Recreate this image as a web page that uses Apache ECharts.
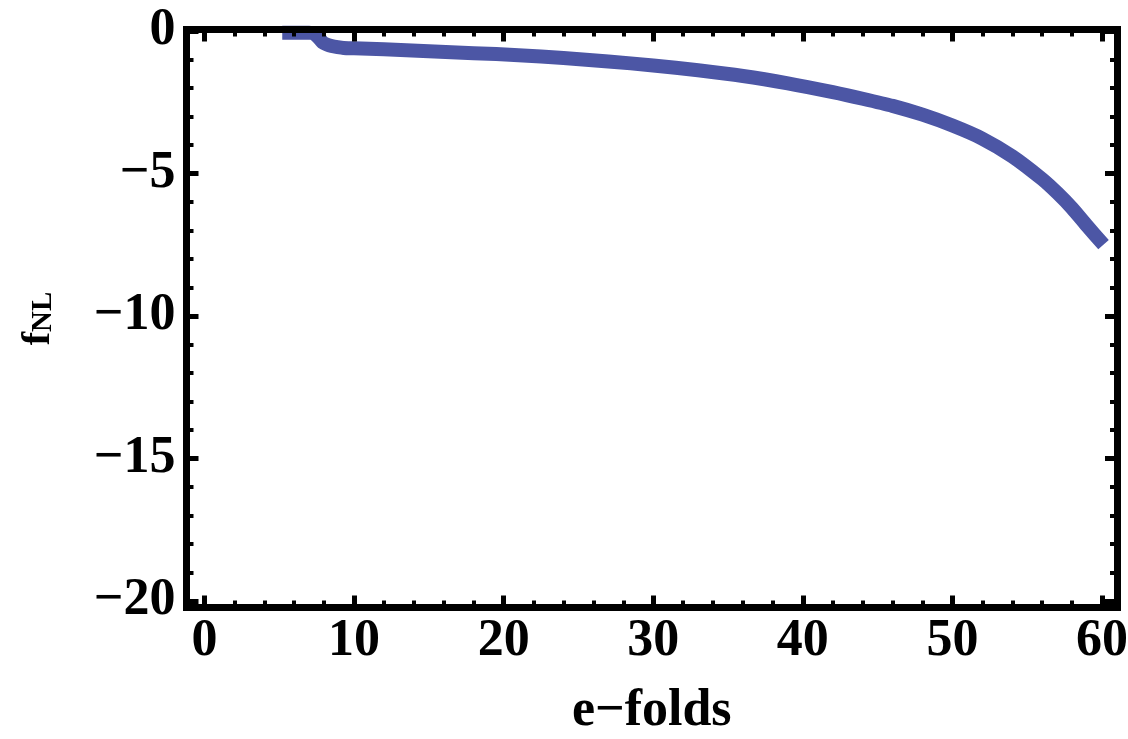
<!DOCTYPE html>
<html>
<head>
<meta charset="utf-8">
<script src="https://cdn.jsdelivr.net/npm/echarts@6/dist/echarts.min.js"></script>
<style>
html,body{margin:0;padding:0;background:#fff;}
#c{width:1128px;height:739px;}
</style>
</head>
<body>
<div id="c"></div>
<script>
// ---- data ----
const efolds = [5.2, 6, 7, 7.3, 7.6, 7.9, 8.2, 8.5, 8.9, 9.3, 10, 12, 15, 18, 21, 24, 27, 30, 33, 36, 39, 42, 44, 46, 48, 50, 52, 54, 56, 57, 58, 59, 60.1];
const fnl    = [-0.06, -0.06, -0.06, -0.09, -0.22, -0.4, -0.48, -0.53, -0.57, -0.6, -0.61, -0.64, -0.71, -0.78, -0.85, -0.95, -1.07, -1.21, -1.38, -1.58, -1.84, -2.15, -2.38, -2.63, -2.94, -3.32, -3.78, -4.40, -5.20, -5.68, -6.22, -6.84, -7.5];
const xMajor = [0, 10, 20, 30, 40, 50, 60];
const xMinor = [2, 4, 6, 8, 12, 14, 16, 18, 22, 24, 26, 28, 32, 34, 36, 38, 42, 44, 46, 48, 52, 54, 56, 58];
const yMajor = [0, -5, -10, -15, -20];
const yMinor = [-1, -2, -3, -4, -6, -7, -8, -9, -11, -12, -13, -14, -16, -17, -18, -19];
const xTitle = 'e\u2212folds';

const FONT = 'Liberation Serif';
const X_MIN = -1.2, X_MAX = 61.0, Y_MIN = -20.23, Y_MAX = 0.05;

function fmt(v) { return v < 0 ? '\u2212' + Math.abs(v) : String(v); }

const frameLine = { show: true, onZero: false, lineStyle: { color: '#000', width: 7, cap: 'square' } };
const noLine = { show: false, onZero: false };

function xAx(pos, major, labels) {
  return {
    type: 'value', position: pos, min: X_MIN, max: X_MAX, z: 10, zlevel: 1,
    axisLine: major ? frameLine : noLine,
    splitLine: { show: false },
    axisTick: { show: true, inside: true, length: major ? 12 : 7, customValues: major ? xMajor : xMinor,
      lineStyle: { color: '#000', width: major ? 5 : 4 } },
    axisLabel: labels ? { show: true, customValues: xMajor, formatter: fmt, fontFamily: FONT, fontWeight: 'bold',
      fontSize: 52, color: '#000', margin: 8 } : { show: false },
    name: labels ? xTitle : '', nameLocation: 'middle', nameGap: 78,
    nameTextStyle: { fontFamily: FONT, fontWeight: 'bold', fontSize: 52, color: '#000' }
  };
}
function yAx(pos, major, labels) {
  return {
    type: 'value', position: pos, min: Y_MIN, max: Y_MAX, z: 10, zlevel: 1,
    axisLine: major ? frameLine : noLine,
    splitLine: { show: false },
    axisTick: { show: true, inside: true, length: major ? 12 : 7, customValues: major ? yMajor : yMinor,
      lineStyle: { color: '#000', width: major ? 5 : 4 } },
    axisLabel: labels ? { show: true, customValues: yMajor, formatter: fmt, fontFamily: FONT, fontWeight: 'bold',
      fontSize: 52, color: '#000', margin: 11 } : { show: false },
    name: labels ? '{f|f}{s|NL}' : '', nameLocation: 'middle', nameGap: 128, nameRotate: 90,
    nameTextStyle: { fontFamily: FONT, fontWeight: 'bold', color: '#000',
      rich: { f: { fontFamily: FONT, fontWeight: 'bold', fontSize: 40, color: '#000', verticalAlign: 'bottom' },
              s: { fontFamily: FONT, fontWeight: 'bold', fontSize: 29, color: '#000', verticalAlign: 'bottom' } } }
  };
}

const chart = echarts.init(document.getElementById('c'), null, { renderer: 'canvas' });
chart.setOption({
  animation: false,
  backgroundColor: '#fff',
  grid: { left: 186.5, right: 11, top: 29.5, bottom: 131.5, containLabel: false, outerBoundsMode: 'none' },
  xAxis: [xAx('bottom', true, true), xAx('bottom', false, false), xAx('top', true, false), xAx('top', false, false)],
  yAxis: [yAx('left', true, true), yAx('left', false, false), yAx('right', true, false), yAx('right', false, false)],
  series: [{
    type: 'line', xAxisIndex: 0, yAxisIndex: 0, z: 2, zlevel: 0,
    data: efolds.map((e, i) => [e, fnl[i]]),
    showSymbol: false, smooth: 0.25,
    lineStyle: { color: '#4c56a5', width: 14, cap: 'butt', join: 'round' },
    clip: true
  }]
});
</script>
</body>
</html>
